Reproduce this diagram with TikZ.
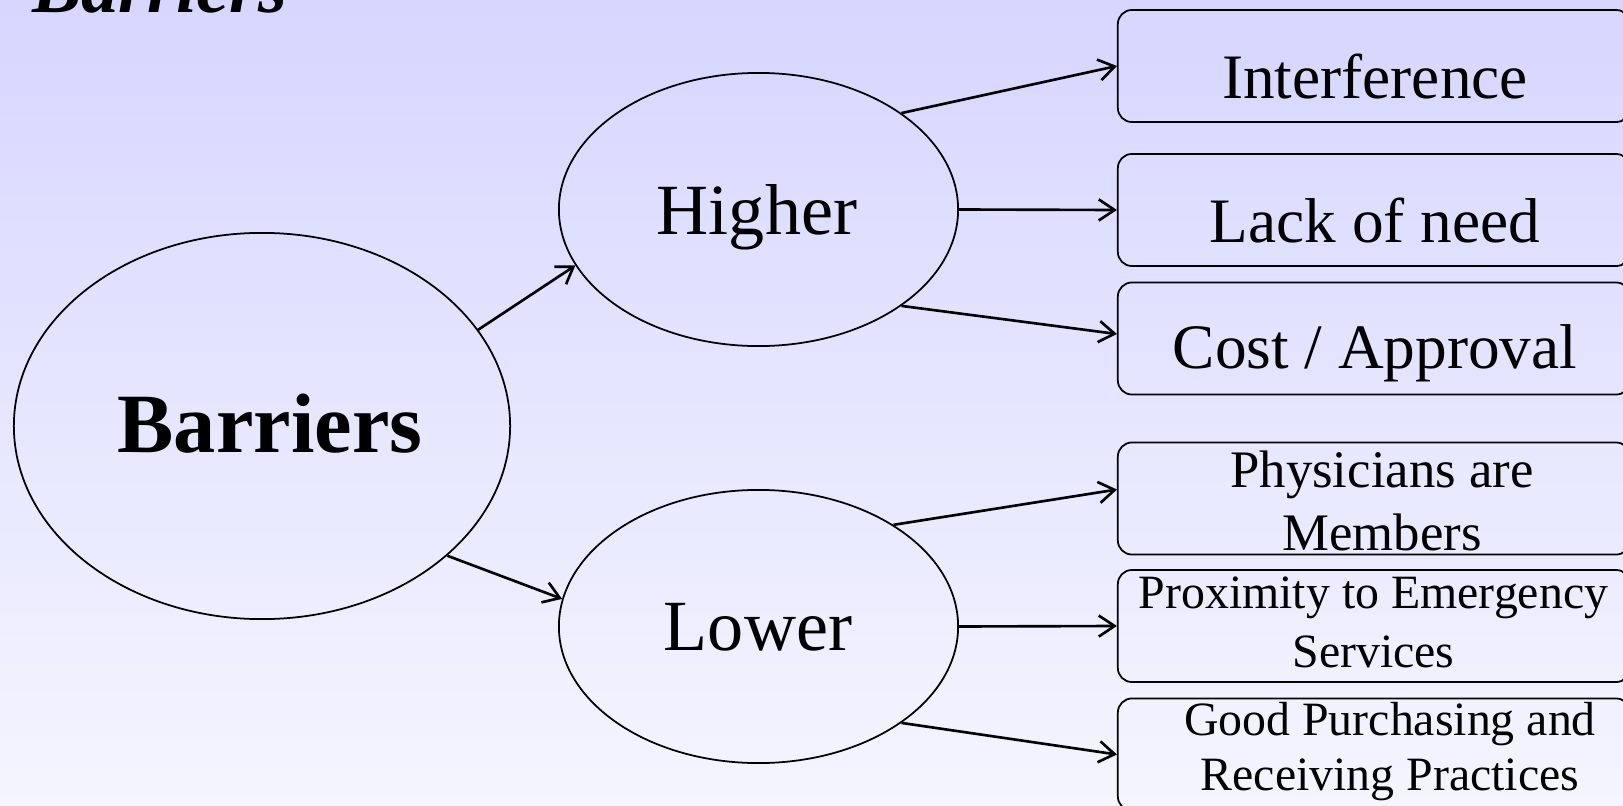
\documentclass[tikz,border=0pt]{standalone}
\usepackage{fontspec}
\setmainfont{Liberation Serif}
\usepackage{tikz}
\usetikzlibrary{arrows,arrows.meta,positioning,calc,shapes}

\definecolor{bgtop}{RGB}{214,214,255}
\definecolor{bgbot}{RGB}{245,245,255}

\begin{document}
\begin{tikzpicture}[x=0.01cm, y=-0.01cm,
    oval/.style={ellipse, draw=black, line width=0.5pt, inner sep=0pt},
    reason/.style={rectangle, rounded corners=4pt, draw=black, line width=0.5pt, minimum width=5.12cm, minimum height=1.12cm, inner sep=0pt},
    lbl/.style={anchor=base, inner sep=0pt, align=center},
    arrow/.style={-{Straight Barb[length=4.5pt,width=6pt]}, line width=0.75pt}
]

% Background
\useasboundingbox (0,0) rectangle (1623,806);
\shade[top color=bgtop, bottom color=bgbot] (0,0) rectangle (1623,806);

% Title
\node[anchor=base west, inner sep=0pt, font=\fontsize{21}{25}\selectfont\bfseries\itshape] (title) at (32,12) {Barriers};

% Ellipses
\node[oval, minimum width=4.96cm, minimum height=3.86cm] (bar) at (262,426) {};
\node[oval, minimum width=3.99cm, minimum height=2.73cm] (hi) at (758.5,209.5) {};
\node[oval, minimum width=3.99cm, minimum height=2.73cm] (lo) at (758.5,626.5) {};

\node[lbl, font=\fontsize{24}{28}\selectfont\bfseries] (tbar) at (270,452) {Barriers};
\node[lbl, font=\fontsize{20.5}{24}\selectfont] (thi) at (757,235) {Higher};
\node[lbl, font=\fontsize{20.5}{24}\selectfont] (tlo) at (758,650) {Lower};

% Boxes
\node[reason] (b1) at (1374,66) {};
\node[reason] (b2) at (1374,210) {};
\node[reason] (b3) at (1374,338.5) {};
\node[reason] (b4) at (1374,498.5) {};
\node[reason] (b5) at (1374,626) {};
\node[reason] (b6) at (1374,754.5) {};

\node[lbl, font=\fontsize{18}{21}\selectfont] (t1) at (1375,98) {Interference};
\node[lbl, font=\fontsize{18}{21}\selectfont] (t2) at (1375,242) {Lack of need};
\node[lbl, font=\fontsize{18}{21}\selectfont] (t3) at (1375,368) {Cost / Approval};
\node[lbl, font=\fontsize{15}{17.9}\selectfont] (t4) at (1382,550) {Physicians are\\Members};
\node[lbl, font=\fontsize{13.6}{16.5}\selectfont] (t5) at (1373.5,667) {Proximity to Emergency\\Services};
\node[lbl, font=\fontsize{13.6}{15.6}\selectfont] (t6) at (1390,790) {Good Purchasing and\\Receiving Practices};

% Arrows
\draw[arrow] (bar.24) -- (hi.197);
\draw[arrow] (bar.-35) -- (lo.172);
\draw[arrow] (hi.34) -- (b1.west);
\draw[arrow] (hi.0) -- (b2.west);
\draw[arrow] (hi.-34) -- (b3.179);
\draw[arrow] (lo.37) -- (b4.178);
\draw[arrow] (lo.0) -- (b5.west);
\draw[arrow] (lo.-34) -- (b6.west);
\end{tikzpicture}
\end{document}
